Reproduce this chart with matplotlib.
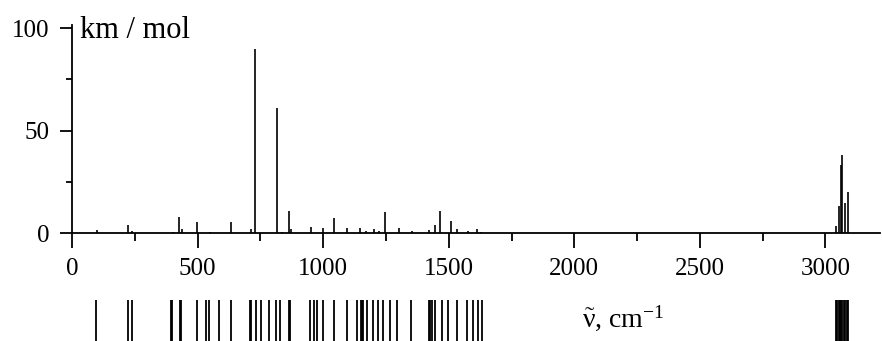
import matplotlib
matplotlib.use("Agg")
import matplotlib.pyplot as plt
from matplotlib.ticker import MultipleLocator

# Stick spectrum: wavenumber (cm-1) and IR intensity (km/mol)
freqs = [98, 223, 237, 401, 426, 437, 498, 548, 633, 713, 730, 815, 835,
         865, 870, 951, 998, 1043, 1093, 1146, 1170, 1203, 1221, 1246,
         1302, 1352, 1423, 1445, 1465, 1507, 1534, 1578, 1614, 1628,
         3041, 3052, 3060, 3065, 3078, 3089]
intens = [1.3, 4.0, 1.0, 0.7, 7.8, 2.1, 5.4, 0.7, 5.4, 2.1, 90, 61, 0.5,
          10.6, 2.0, 2.9, 2.6, 7.3, 2.4, 2.4, 1.0, 2.0, 1.0, 10.2,
          2.6, 1.0, 1.6, 4.1, 10.6, 6.0, 2.1, 0.8, 2.0, 0.5,
          3.6, 13.3, 33, 38, 14.6, 19.8]

# All computed mode positions (rug below the axis)
rug = [96, 224, 238, 395, 399, 431, 435, 496, 532, 545, 586, 632, 710, 713,
       732, 754, 784, 812, 828, 864, 867, 947, 963, 977, 1001, 1043, 1093,
       1133, 1152, 1155, 1160, 1176, 1200, 1220, 1240, 1266, 1295, 1348,
       1420, 1426, 1432, 1445, 1472, 1498, 1531, 1571, 1598, 1617, 1631,
       3041, 3046, 3052, 3057, 3060, 3065, 3072, 3078, 3084, 3089]

xticks = [0, 500, 1000, 1500, 2000, 2500, 3000]
yticks = [0, 50, 100]

plt.rcParams['font.family'] = ['Liberation Serif', 'DejaVu Serif']
plt.rcParams['mathtext.fontset'] = 'custom'
plt.rcParams['mathtext.rm'] = 'Liberation Serif'
plt.rcParams['mathtext.it'] = 'Liberation Serif:italic'
plt.rcParams['mathtext.bf'] = 'Liberation Serif:bold'

W, H = 882, 341
fig = plt.figure(figsize=(W / 100, H / 100), dpi=100)

ax = fig.add_axes([72 / W, (H - 233) / H, (880 - 72) / W, (233 - 25) / H])
ax.vlines(freqs, 0, intens, color='black', linewidth=1.2)
ax.set_xlim(0, 3217)
ax.set_ylim(0, 101.5)
ax.spines['top'].set_visible(False)
ax.spines['right'].set_visible(False)
for s in ('left', 'bottom'):
    ax.spines[s].set_linewidth(1.3)
ax.set_xticks(xticks)
ax.set_yticks(yticks)
ax.xaxis.set_minor_locator(MultipleLocator(250))
ax.yaxis.set_minor_locator(MultipleLocator(25))
ax.tick_params(axis='x', which='major', direction='out', length=11, width=1.3,
               labelsize=18, pad=7)
ax.tick_params(axis='x', which='minor', direction='out', length=5.5, width=1.3)
ax.tick_params(axis='y', which='major', direction='out', length=8.5, width=1.3,
               labelsize=18, pad=8)
ax.tick_params(axis='y', which='minor', direction='out', length=4.5, width=1.3)
fig.text(80 / W, (H - 31) / H, 'km / mol', fontsize=22,
         ha='left', va='center')

# Rug of mode positions
rax = fig.add_axes([72 / W, 0, (880 - 72) / W, (H - 300) / H])
rax.vlines(rug, 0, 1, color='black', linewidth=1.3)
rax.set_xlim(0, 3217)
rax.set_ylim(0, 1)
rax.axis('off')

fig.text(582 / W, (H - 318) / H, r'$\tilde{\mathrm{\nu}}$, cm$^{-1}$',
         fontsize=20, ha='left', va='center')

fig.savefig('out.png', dpi=100)
